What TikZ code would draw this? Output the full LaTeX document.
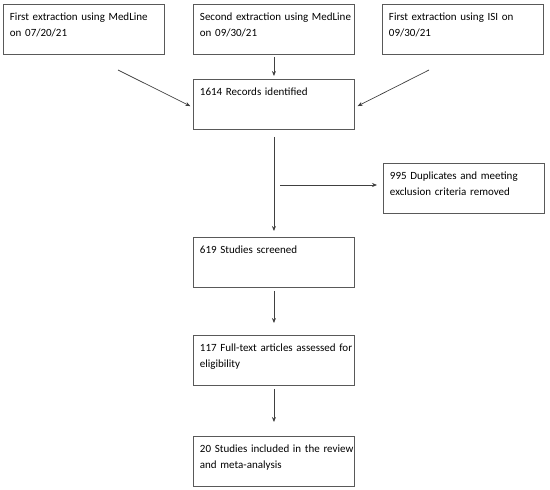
\documentclass[tikz,border=0pt]{standalone}
\usepackage{fontspec}
\setmainfont{Carlito}
\usetikzlibrary{positioning, arrows.meta, calc}
\definecolor{boxline}{HTML}{595959}
\definecolor{arrowline}{HTML}{404040}

\begin{document}
\begin{tikzpicture}[
  x=1pt, y=-1pt,
  font=\fontsize{11}{16}\selectfont,
  stagebox/.style={
    draw=boxline,
    line width=0.9pt,
    rectangle,
    anchor=north west,
    minimum width=161pt,
    text width=160pt,
    inner xsep=0.5pt,
    inner ysep=0pt,
    text height=16pt,
    text depth=34pt,
    execute at begin node={\raggedright\leftskip=6pt\rightskip=0pt plus 1fil\hyphenpenalty=10000\relax},
    text=black
  },
  flowarrow/.style={
    -{Stealth[length=5pt, width=4pt]},
    line width=0.7pt,
    color=arrowline
  }
]
  \useasboundingbox (0,0) rectangle (550,490);

  % --- Sources (top row) ---
  \node[stagebox] (ext1) at (3,4)   {First extraction using MedLine\\on 07/20/21};
  \node[stagebox] (ext2) at (193,4) {Second extraction using MedLine\\on 09/30/21};
  \node[stagebox] (ext3) at (382,4) {First extraction using ISI on\\09/30/21};

  % --- Main column ---
  \node[stagebox] (rec)  at (193,79)  {1614 Records identified};
  \node[stagebox] (dup)  at (383,163) {995 Duplicates and meeting\\exclusion criteria removed};
  \node[stagebox] (scr)  at (193,237) {619 Studies screened};
  \node[stagebox] (full) at (193,335) {117 Full-text articles assessed for\\eligibility};
  \node[stagebox] (incl) at (193,436) {20 Studies included in the review\\and meta-analysis};

  % Free ends of the slanted and side arrows
  \coordinate (e1out) at (118,70);
  \coordinate (e3out) at (429,70);
  \coordinate (split) at (280,185);

  % Arrows into the records box
  \draw[flowarrow, shorten >=3pt] (e1out) -- ([yshift=-3pt]rec.west);
  \draw[flowarrow, shorten <=2pt, shorten >=3pt] (ext2.south) -- (rec.north);
  \draw[flowarrow, shorten >=3pt] (e3out) -- ([yshift=-3pt]rec.east);

  % Down the column
  \draw[flowarrow, shorten <=7pt, shorten >=6pt] (rec.south) -- (scr.north);
  \draw[flowarrow, shorten >=6pt] (split) -- (split -| dup.west);
  \draw[flowarrow, shorten <=3pt, shorten >=12pt] (scr.south) -- (full.north);
  \draw[flowarrow, shorten <=3pt, shorten >=14pt] (full.south) -- (incl.north);

\end{tikzpicture}
\end{document}
